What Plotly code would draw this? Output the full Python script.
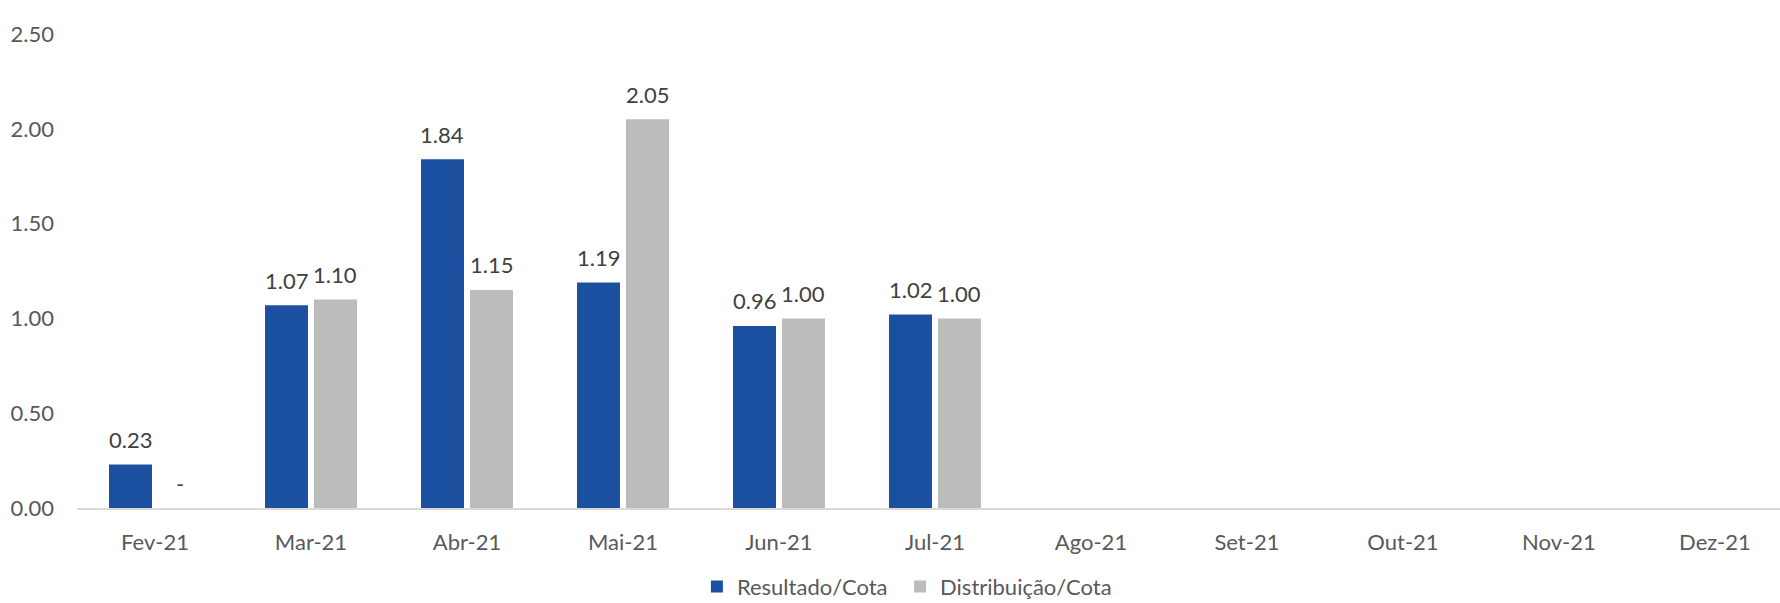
import plotly.graph_objects as go

months = ["Fev-21", "Mar-21", "Abr-21", "Mai-21", "Jun-21", "Jul-21",
          "Ago-21", "Set-21", "Out-21", "Nov-21", "Dez-21"]
resultado = [0.23, 1.07, 1.84, 1.19, 0.96, 1.02, None, None, None, None, None]
distribuicao = [0.0, 1.10, 1.15, 2.05, 1.00, 1.00, None, None, None, None, None]
y_ticks = [0.0, 0.5, 1.0, 1.5, 2.0, 2.5]

BLUE = "#1B50A1"
GRAY = "#BCBDBB"
FONT = "Lato"

fig = go.Figure()
fig.add_trace(go.Bar(name="Resultado/Cota", x=months, y=resultado, legend="legend",
                     marker=dict(color=BLUE, line=dict(width=0))))
fig.add_trace(go.Bar(name="Distribuição/Cota", x=months, y=distribuicao, legend="legend2",
                     marker=dict(color=GRAY, line=dict(width=0))))

def fmt(v):
    return "-" if v == 0 else f"{v:.2f}"

for series, shift in ((resultado, -24.5), (distribuicao, 24.5)):
    for m, v in zip(months, series):
        if v is None:
            continue
        fig.add_annotation(x=m, y=v, text=fmt(v), showarrow=False,
                           xshift=shift, yshift=25, yanchor="middle",
                           font=dict(family=FONT, size=22, color="#404040"))

leg_common = dict(orientation="h", xanchor="left", y=-0.166, yanchor="middle",
                  font=dict(family=FONT, size=22, color="#595959"),
                  itemclick=False, bgcolor="rgba(0,0,0,0)")

fig.update_layout(
    width=1780, height=603,
    margin=dict(l=77, r=0, t=34, b=95, autoexpand=False),
    paper_bgcolor="white", plot_bgcolor="white",
    barmode="group", bargap=0.372, bargroupgap=0.122,
    font=dict(family=FONT, size=22, color="#595959"),
    showlegend=True,
    legend=dict(x=0.364, **leg_common),
    legend2=dict(x=0.4833, **leg_common),
)
fig.update_xaxes(type="category", range=[-0.5, 10.417], showgrid=False,
                 showline=True, linecolor="#D9D9D9", linewidth=2,
                 ticks="", ticklabelstandoff=14,
                 tickfont=dict(family=FONT, size=22, color="#595959"))
fig.update_yaxes(range=[0, 2.5], tickvals=y_ticks, ticktext=[f"{t:.2f}" for t in y_ticks],
                 showgrid=False, zeroline=False, showline=False, ticks="",
                 ticklabelstandoff=22,
                 tickfont=dict(family=FONT, size=22, color="#595959"))

fig.write_html("out.html")
